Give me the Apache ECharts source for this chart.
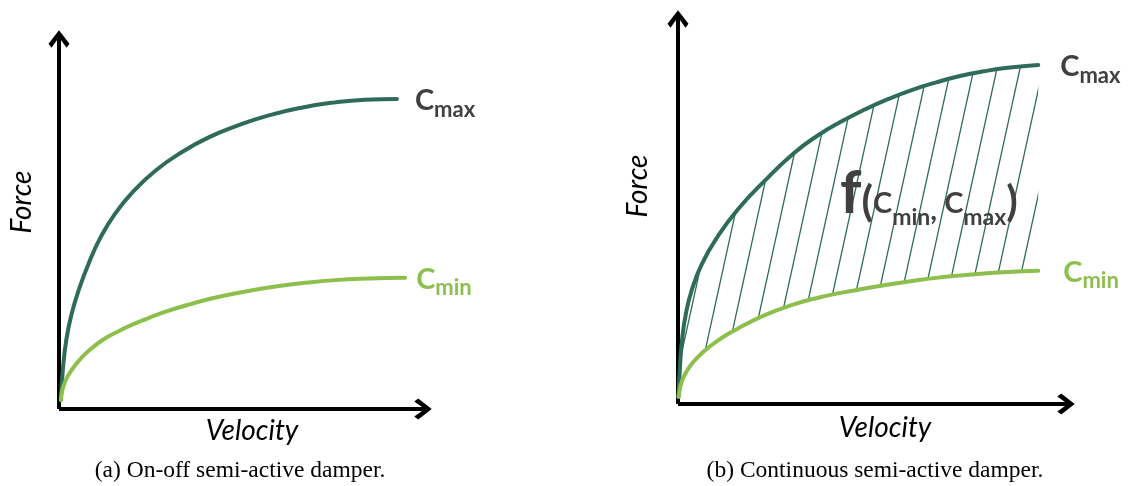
<!DOCTYPE html>
<html><head><meta charset="utf-8">
<script src="https://cdn.jsdelivr.net/npm/echarts@6/dist/echarts.min.js"></script>
<style>html,body{margin:0;padding:0;background:#fff}#chart{width:1135px;height:486px}</style>
</head><body><div id="chart"></div>
<script>
// ---- data (arbitrary units) ----
const leftCmaxVelocity = [0.5, 1.0, 2.0, 3.5, 5.5, 8, 11, 15, 20, 26, 33, 40, 48, 56, 65, 74, 82, 90.6];
const leftCmaxForce    = [2.4, 10, 18.5, 25.5, 32, 38.5, 45, 51.5, 57.5, 63, 67.8, 71.6, 74.8, 77.4, 79.5, 80.9, 81.6, 81.8];
const leftCminVelocity = [0.5, 0.8, 1.3, 2.1, 3.2, 4.8, 6.7, 9.1, 12, 15.5, 19.5, 24, 29, 35, 42, 50, 58, 66, 74, 83, 92.8];
const leftCminForce    = [2.4, 4.5, 6.3, 8.2, 10.0, 12.1, 14.2, 16.3, 18.4, 20.3, 22.2, 24.0, 25.8, 27.6, 29.4, 31.0, 32.3, 33.3, 34.0, 34.4, 34.6];

const rightVelocity  = [0.13, 0.5, 1.0, 2.0, 3.5, 6.0, 10, 15, 22, 29, 35, 41, 47, 53, 59, 65, 71, 77, 83, 90.7];
const rightCmaxForce = [1.8, 9.4, 16.0, 23.0, 29.0, 35.5, 42.5, 49.3, 56.8, 63.5, 68.0, 71.6, 74.7, 77.4, 79.7, 81.6, 83.2, 84.4, 85.3, 86.0];
const rightCminForce = [1.8, 4.0, 5.8, 8.0, 10.2, 12.9, 16.1, 19.1, 22.6, 25.2, 26.9, 28.2, 29.3, 30.3, 31.2, 32.0, 32.6, 33.1, 33.5, 33.8];

const xName = 'Velocity';
const yName = 'Force';
const captions = ['(a) On-off semi-active damper.', '(b) Continuous semi-active damper.'];

// ---- styling ----
const DARK = '#2f6b5a';
const LIGHT = '#8cbf4c';
const GREY = '#404040';
const SANS = 'Lato, "Open Sans", sans-serif';
const ARROW = 'path://M10.5,0 L21,13.5 L18,17.5 L10.5,7 L3,17.5 L0,13.5 Z';
const SMOOTH = 0.5;

const zip = (xs, ys) => xs.map((x, i) => [x, ys[i]]);
// force first, velocity second (so that stacking happens on the force dimension)
const zipFV = (fs, vs) => fs.map((f, i) => [f, vs[i]]);

function hatchPattern() {
  const W = 23, H = 105;
  const cv = document.createElement('canvas');
  cv.width = W; cv.height = H;
  const g = cv.getContext('2d');
  g.strokeStyle = DARK; g.lineWidth = 1.3;
  for (const dx of [-W, 0, W]) {
    g.beginPath(); g.moveTo(dx, H); g.lineTo(dx + W, 0); g.stroke();
  }
  return cv;
}

function axis(gridIndex) {
  return {
    type: 'value', gridIndex, min: 0, max: 99.2, z: 3,
    axisLine: { show: true, onZero: false, symbol: ['none', ARROW], symbolSize: [21, 18], symbolOffset: [0, -6],
      lineStyle: { color: '#000', width: 4, cap: 'butt' } },
    axisTick: { show: false }, axisLabel: { show: false }, splitLine: { show: false }
  };
}

const richSub = (color) => ({
  c: { fontFamily: SANS, fontWeight: 'bold', fontSize: 29, color },
  s: { fontFamily: SANS, fontWeight: 'bold', fontSize: 22, color, padding: [17, 0, 0, 0] }
});

function curve(gi, data, color, sub, labelColor, dist) {
  return {
    type: 'line', xAxisIndex: gi, yAxisIndex: gi, data, smooth: SMOOTH, showSymbol: false, z: 4,
    lineStyle: { color, width: 4, cap: 'round' }, itemStyle: { color },
    endLabel: { show: true, formatter: '{c|C}{s|' + sub + '}', distance: dist, offset: [0, 2], rich: richSub(labelColor) },
    silent: true
  };
}

const bandDiff = rightCmaxForce.map((v, i) => v - rightCminForce[i]);

const chart = echarts.init(document.getElementById('chart'));
chart.setOption({
  animation: false,
  backgroundColor: '#fff',
  grid: [
    { left: 59, top: 33, width: 370, height: 376 },
    { left: 678, top: 13, width: 394, height: 391 }
  ],
  xAxis: [axis(0), axis(1)],
  yAxis: [axis(0), axis(1)],
  series: [
    curve(0, zip(leftCmaxVelocity, leftCmaxForce), DARK, 'max', GREY, 18),
    curve(0, zip(leftCminVelocity, leftCminForce), LIGHT, 'min', LIGHT, 11),
    { type: 'line', xAxisIndex: 1, yAxisIndex: 1, stack: 'band', encode: { x: 1, y: 0 },
      data: zipFV(rightCminForce, rightVelocity), smooth: SMOOTH,
      showSymbol: false, z: 2, lineStyle: { width: 0, opacity: 0 }, silent: true },
    { type: 'line', xAxisIndex: 1, yAxisIndex: 1, stack: 'band', encode: { x: 1, y: 0 },
      data: zipFV(bandDiff, rightVelocity), smooth: SMOOTH,
      showSymbol: false, z: 2, lineStyle: { width: 0, opacity: 0 },
      areaStyle: { color: { image: hatchPattern(), repeat: 'repeat' }, opacity: 1 }, silent: true },
    curve(1, zip(rightVelocity, rightCmaxForce), DARK, 'max', GREY, 22),
    curve(1, zip(rightVelocity, rightCminForce), LIGHT, 'min', LIGHT, 25)
  ],
  graphic: [
    { type: 'text', x: 22, y: 202, rotation: Math.PI / 2,
      style: { text: yName, font: 'italic 28px ' + SANS, fill: '#000', align: 'center', verticalAlign: 'middle', textAlign: 'center', textVerticalAlign: 'middle' } },
    { type: 'text', x: 638, y: 186, rotation: Math.PI / 2,
      style: { text: yName, font: 'italic 28px ' + SANS, fill: '#000', align: 'center', verticalAlign: 'middle', textAlign: 'center', textVerticalAlign: 'middle' } },
    { type: 'text', x: 252, y: 431,
      style: { text: xName, font: 'italic 28px ' + SANS, fill: '#000', align: 'center', verticalAlign: 'middle', textAlign: 'center', textVerticalAlign: 'middle' } },
    { type: 'text', x: 885, y: 428,
      style: { text: xName, font: 'italic 28px ' + SANS, fill: '#000', align: 'center', verticalAlign: 'middle', textAlign: 'center', textVerticalAlign: 'middle' } },
    { type: 'text', x: 240, y: 471,
      style: { text: captions[0], font: '23.5px "Liberation Serif", serif', fill: '#000', align: 'center', verticalAlign: 'middle', textAlign: 'center', textVerticalAlign: 'middle' } },
    { type: 'text', x: 875, y: 471,
      style: { text: captions[1], font: '23.5px "Liberation Serif", serif', fill: '#000', align: 'center', verticalAlign: 'middle', textAlign: 'center', textVerticalAlign: 'middle' } },
    { type: 'text', x: 840, y: 194, z: 10,
      style: {
        text: '{f|f}{p|(}{c|C}{s|min}{k|,}{c| C}{s|max}{p|)}',
        align: 'left', verticalAlign: 'middle', textAlign: 'left', textVerticalAlign: 'middle',
        rich: {
          f: { fontFamily: SANS, fontWeight: 'bold', fontSize: 60, fill: GREY },
          p: { fontFamily: SANS, fontWeight: 'bold', fontSize: 42, fill: GREY, padding: [16, 0, 0, 0] },
          c: { fontFamily: SANS, fontWeight: 'bold', fontSize: 29, fill: GREY, padding: [20, 0, 0, 0] },
          k: { fontFamily: SANS, fontWeight: 'bold', fontSize: 29, fill: GREY, padding: [34, 0, 0, 0] },
          s: { fontFamily: SANS, fontWeight: 'bold', fontSize: 23, fill: GREY, padding: [48, 0, 0, 0] }
        }
      } }
  ]
});
</script></body></html>
